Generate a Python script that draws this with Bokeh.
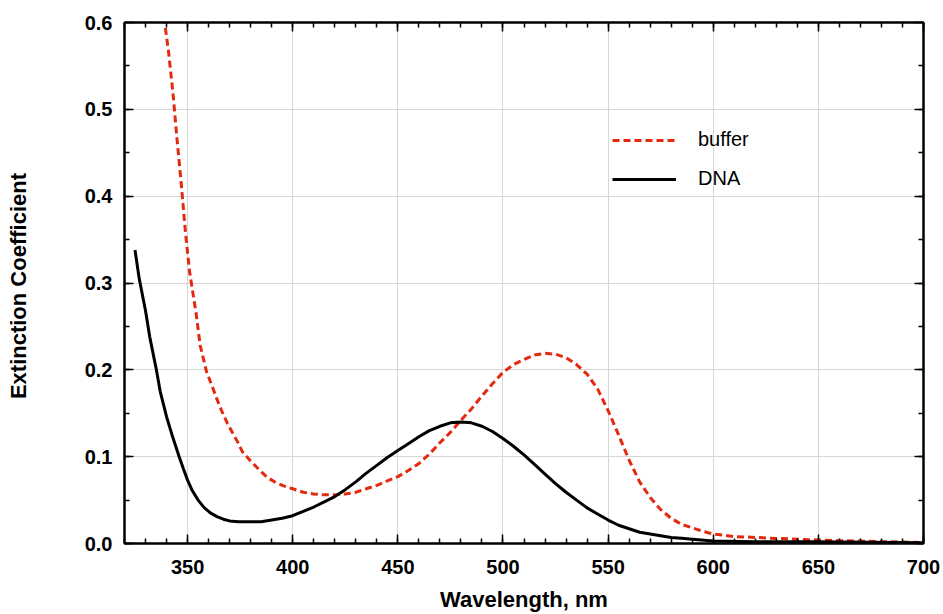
from bokeh.plotting import figure
from bokeh.models import (Legend, LegendItem, LinearAxis, FixedTicker,
                          CustomJSTickFormatter, PrintfTickFormatter, Range1d)
from bokeh.embed import file_html
from bokeh.resources import INLINE

# ---- data ----
dna_wl = [325, 327, 330, 332, 335, 337, 340, 343, 346, 348, 350, 352, 355, 358,
          361, 364, 367, 370, 374, 380, 385, 390, 395, 400, 405, 410, 415, 420,
          425, 430, 435, 440, 445, 450, 455, 460, 465, 470, 475, 480, 485, 490,
          495, 500, 505, 510, 515, 520, 525, 530, 535, 540, 545, 550, 555, 560,
          565, 570, 575, 580, 585, 590, 600, 620, 650, 700]
dna_ext = [0.338, 0.305, 0.268, 0.238, 0.202, 0.175, 0.146, 0.122, 0.100, 0.086,
           0.073, 0.062, 0.050, 0.041, 0.035, 0.031, 0.028, 0.026, 0.025, 0.025,
           0.025, 0.027, 0.029, 0.032, 0.037, 0.042, 0.048, 0.054, 0.062, 0.071,
           0.081, 0.090, 0.099, 0.107, 0.115, 0.123, 0.130, 0.135, 0.139, 0.140,
           0.139, 0.135, 0.129, 0.121, 0.112, 0.102, 0.091, 0.080, 0.069, 0.059,
           0.050, 0.041, 0.034, 0.027, 0.021, 0.017, 0.013, 0.011, 0.009, 0.007,
           0.006, 0.005, 0.003, 0.002, 0.002, 0.001]

buf_wl = [335, 337, 339, 341, 343, 345, 347, 349, 351, 354, 356, 359, 362, 364,
          366, 369, 374, 376, 380, 384, 388, 392, 396, 400, 405, 410, 415, 420,
          425, 430, 435, 440, 445, 450, 455, 460, 465, 470, 475, 480, 485, 490,
          495, 500, 505, 510, 515, 520, 525, 530, 535, 540, 545, 550, 555, 560,
          565, 570, 575, 580, 585, 590, 595, 600, 610, 620, 630, 640, 650, 660,
          670, 680, 690, 700]
buf_ext = [0.72, 0.66, 0.602, 0.565, 0.52, 0.465, 0.414, 0.358, 0.312, 0.266,
           0.228, 0.198, 0.179, 0.166, 0.154, 0.138, 0.116, 0.106, 0.095, 0.085,
           0.076, 0.070, 0.066, 0.063, 0.059, 0.057, 0.056, 0.056, 0.057, 0.059,
           0.063, 0.067, 0.072, 0.077, 0.084, 0.092, 0.103, 0.116, 0.128, 0.142,
           0.155, 0.170, 0.184, 0.197, 0.206, 0.212, 0.217, 0.219, 0.218, 0.214,
           0.206, 0.195, 0.178, 0.153, 0.125, 0.096, 0.071, 0.053, 0.039, 0.029,
           0.022, 0.018, 0.014, 0.011, 0.008, 0.007, 0.0058, 0.005, 0.004, 0.0033,
           0.0028, 0.0022, 0.0017, 0.0012]

x_major = [350, 400, 450, 500, 550, 600, 650, 700]
x_minor = list(range(320, 701, 10))
y_major = [0.0, 0.1, 0.2, 0.3, 0.4, 0.5, 0.6]
y_minor = [i * 0.05 for i in range(13)]

FONT = "Liberation Sans"
RED = "#e4290f"

p = figure(width=943, height=614, x_range=Range1d(320, 700), y_range=Range1d(0, 0.6),
           output_backend="svg", toolbar_location=None,
           x_axis_label="Wavelength, nm", y_axis_label="Extinction  Coefficient",
           min_border_left=124, min_border_right=20, min_border_top=22,
           min_border_bottom=70)

xt = FixedTicker(ticks=x_major, minor_ticks=x_minor)
yt = FixedTicker(ticks=y_major, minor_ticks=y_minor)

def style_axis(ax):
    ax.axis_line_width = 2
    ax.axis_line_color = "black"
    ax.major_tick_in = 9
    ax.major_tick_out = 0
    ax.minor_tick_in = 5
    ax.minor_tick_out = 0
    ax.major_tick_line_width = 1.5
    ax.minor_tick_line_width = 1.5
    ax.major_tick_line_color = "black"
    ax.minor_tick_line_color = "black"
    ax.major_label_text_font = FONT
    ax.major_label_text_font_style = "bold"
    ax.major_label_text_font_size = "20px"
    ax.major_label_text_color = "black"
    ax.axis_label_text_font = FONT
    ax.axis_label_text_font_style = "bold"
    ax.axis_label_text_font_size = "22px"
    ax.axis_label_text_color = "black"

p.xaxis.ticker = xt
p.yaxis.ticker = yt
p.yaxis.formatter = PrintfTickFormatter(format="%.1f")
style_axis(p.xaxis[0])
style_axis(p.yaxis[0])
p.xaxis.major_label_standoff = 16
p.xaxis.axis_label_standoff = 10
p.yaxis.major_label_standoff = 12
p.yaxis.axis_label_standoff = 51

blank = CustomJSTickFormatter(code="return ''")
top = LinearAxis(ticker=xt, formatter=blank, major_label_standoff=0)
right = LinearAxis(ticker=yt, formatter=blank, major_label_standoff=0)
style_axis(top)
style_axis(right)
p.add_layout(top, "above")
p.add_layout(right, "right")

p.xgrid.ticker = FixedTicker(ticks=x_major)
p.ygrid.ticker = FixedTicker(ticks=y_major)
p.grid.grid_line_color = "#d6d6d6"
p.grid.grid_line_width = 1
p.outline_line_color = "black"
p.outline_line_width = 2

r_buf = p.line(buf_wl, buf_ext, line_color=RED, line_width=3, line_dash="7 4")
r_dna = p.line(dna_wl, dna_ext, line_color="black", line_width=3)

legend = Legend(items=[LegendItem(label="buffer", renderers=[r_buf]),
                       LegendItem(label="DNA", renderers=[r_dna])],
                location=(488, 353), padding=0, margin=0, spacing=16,
                glyph_width=64, glyph_height=20, label_height=20,
                label_standoff=22, background_fill_alpha=0, border_line_alpha=0,
                label_text_font=FONT, label_text_font_size="20px",
                label_text_color="black")
p.add_layout(legend)

open("out.html", "w").write(file_html(p, INLINE))
